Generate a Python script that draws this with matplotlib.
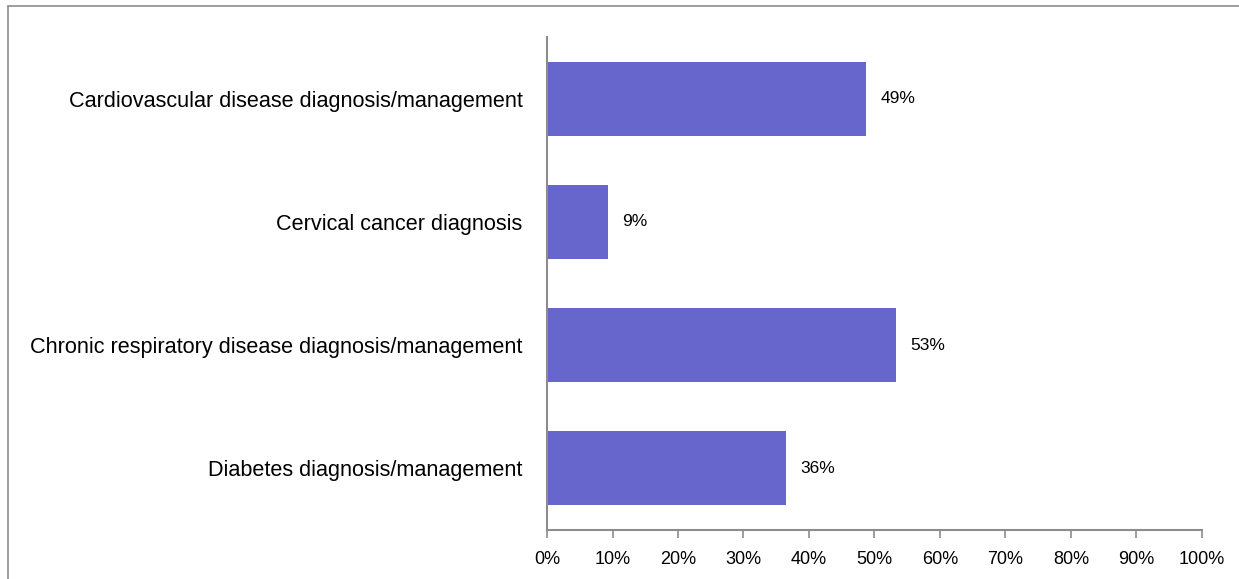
import matplotlib.pyplot as plt
from matplotlib.patches import Rectangle

# services and share of facilities offering them (%)
services = [
    "Cardiovascular disease diagnosis/management",
    "Cervical cancer diagnosis",
    "Chronic respiratory disease diagnosis/management",
    "Diabetes diagnosis/management",
]
shares = [48.7, 9.3, 53.3, 36.5]
x_ticks = [0, 10, 20, 30, 40, 50, 60, 70, 80, 90, 100]

bar_color = "#6666CC"
axis_color = "#8C8C8C"
plt.rcParams["font.family"] = "Liberation Sans"

fig = plt.figure(figsize=(12.39, 5.79), dpi=100)
ax = fig.add_axes([0.4415, 0.0846, 0.5286, 0.8515])

ypos = list(range(len(services)))
ax.barh(ypos, shares, height=0.6, color=bar_color)
for y, v in zip(ypos, shares):
    ax.text(v + 2.2, y, f"{v:.0f}%", va="center", ha="left", fontsize=12.5)

ax.set_ylim(len(services) - 0.5, -0.5)
ax.set_xlim(0, 100)
ax.set_yticks(ypos)
ax.set_yticklabels(services, fontsize=15.6)
ax.tick_params(axis="y", length=0, pad=17.5)
ax.set_xticks(x_ticks)
ax.set_xticklabels([f"{t}%" for t in x_ticks], fontsize=13)
ax.tick_params(axis="x", length=6, width=1.2, color=axis_color, pad=9, direction="out")

for s in ["top", "right"]:
    ax.spines[s].set_visible(False)
for s in ["left", "bottom"]:
    ax.spines[s].set_color(axis_color)
    ax.spines[s].set_linewidth(1.5)

# outer frame of the chart area
fig.patches.append(Rectangle((8 / 1239, -0.1), 1.2, 1 - 6 / 579 + 0.1,
                             transform=fig.transFigure, fill=False,
                             edgecolor=axis_color, linewidth=1.2))

fig.savefig("out.png", dpi=100)
